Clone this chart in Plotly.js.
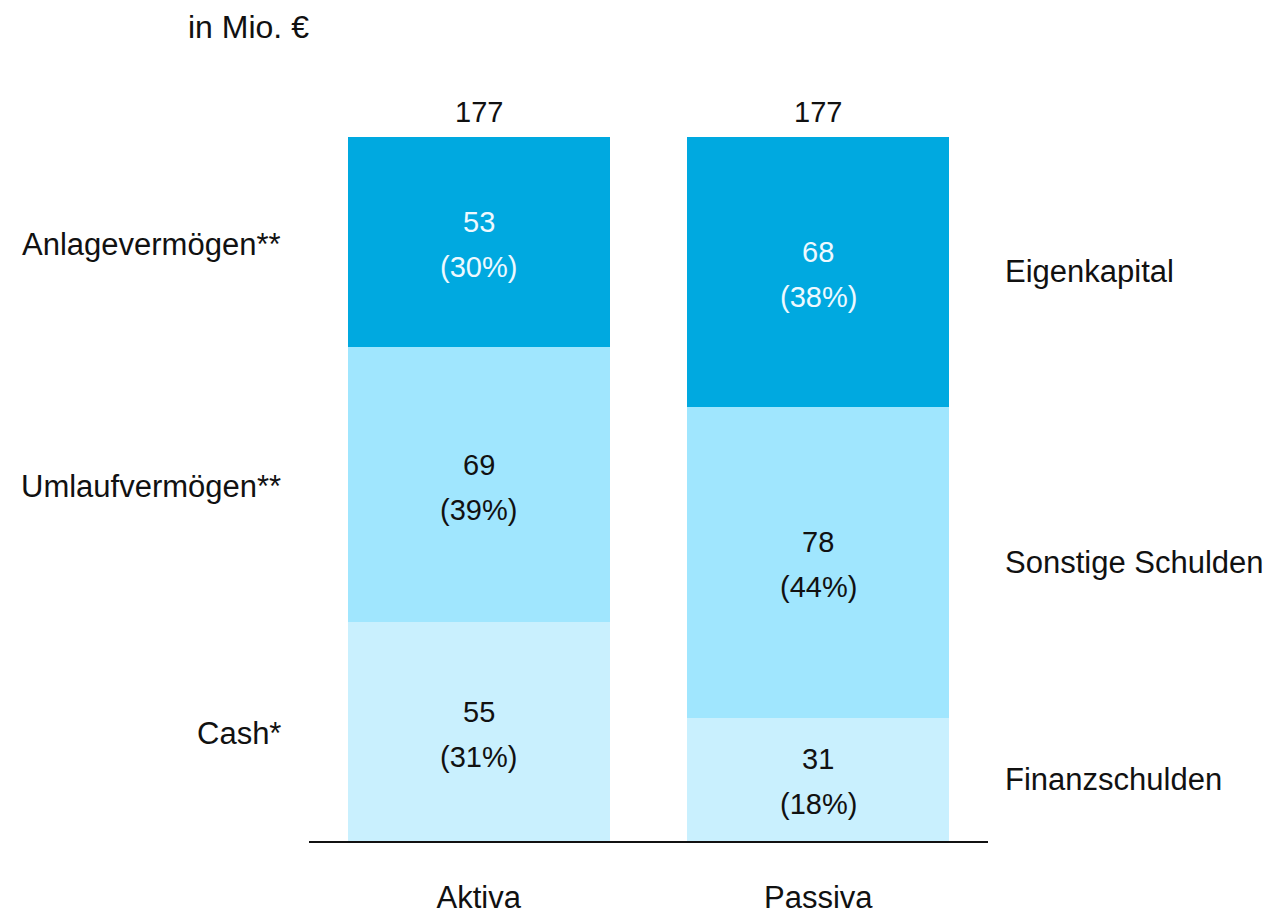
<!DOCTYPE html>
<html>
<head>
<meta charset="utf-8">
<script src="https://cdn.plot.ly/plotly-3.0.1.min.js"></script>
<style>html,body{margin:0;padding:0;background:#fff;}#chart{width:1268px;height:915px;}</style>
</head>
<body>
<div id="chart"></div>
<script>
const categories = ['Aktiva', 'Passiva'];
const aktivaLabels = ['Cash*', 'Umlaufvermögen**', 'Anlagevermögen**'];
const aktivaValues = [55, 69, 53];
const aktivaPct = ['31%', '39%', '30%'];
const passivaLabels = ['Finanzschulden', 'Sonstige Schulden', 'Eigenkapital'];
const passivaValues = [31, 78, 68];
const passivaPct = ['18%', '44%', '38%'];
const totals = [177, 177];
const unitLabel = 'in Mio. €';

const colors = ['#C9F0FE', '#A0E6FE', '#00A9E0'];
const textColors = ['#111111', '#111111', '#EEF9FF'];
const FONT = 'Liberation Sans, Arial, sans-serif';
const FS = 29;
const FS_LBL = 31;

const traces = [0, 1, 2].map(i => ({
  type: 'bar',
  x: categories,
  y: [aktivaValues[i], passivaValues[i]],
  marker: { color: colors[i], line: { width: 0 } },
  width: 0.772,
  hoverinfo: 'skip',
  showlegend: false
}));

const annotations = [];
const series = [
  { vals: aktivaValues, pct: aktivaPct, labels: aktivaLabels, side: 'left' },
  { vals: passivaValues, pct: passivaPct, labels: passivaLabels, side: 'right' }
];
series.forEach((s, ci) => {
  let cum = 0;
  s.vals.forEach((v, i) => {
    const mid = cum + v / 2;
    cum += v;
    annotations.push({ x: categories[ci], y: mid, xref: 'x', yref: 'y', text: String(v), showarrow: false,
      yshift: 20, font: { family: FONT, size: FS, color: textColors[i] } });
    annotations.push({ x: categories[ci], y: mid, xref: 'x', yref: 'y', text: '(' + s.pct[i] + ')', showarrow: false,
      yshift: -25, font: { family: FONT, size: FS, color: textColors[i] } });
    if (s.side === 'left') {
      annotations.push({ x: -0.5, y: mid, xref: 'x', yref: 'y', text: s.labels[i], showarrow: false,
        xanchor: 'right', xshift: -26, yshift: -2, font: { family: FONT, size: FS_LBL, color: '#111' } });
    } else {
      annotations.push({ x: 1.5, y: mid, xref: 'x', yref: 'y', text: s.labels[i], showarrow: false,
        xanchor: 'left', xshift: 15, font: { family: FONT, size: FS_LBL, color: '#111' } });
    }
  });
  annotations.push({ x: categories[ci], y: totals[ci], xref: 'x', yref: 'y', text: String(totals[ci]), showarrow: false,
    yanchor: 'bottom', yshift: 7, font: { family: FONT, size: FS, color: '#111' } });
});

const layout = {
  width: 1268, height: 915,
  margin: { l: 309, r: 280, t: 45, b: 74 },
  paper_bgcolor: '#fff', plot_bgcolor: '#fff',
  barmode: 'stack',
  title: { text: unitLabel, x: 188 / 1268, xanchor: 'left', xref: 'container', y: 1 - 27 / 915, yanchor: 'middle', yref: 'container',
    font: { family: FONT, size: 32, color: '#111' } },
  xaxis: { type: 'category', range: [-0.5, 1.5], showline: true, linecolor: '#111', linewidth: 1.5,
    showgrid: false, zeroline: false, ticks: 'outside', ticklen: 28, tickcolor: 'rgba(0,0,0,0)',
    tickfont: { family: FONT, size: FS_LBL, color: '#111' }, fixedrange: true },
  yaxis: { range: [0, 200], visible: false, showgrid: false, zeroline: false, fixedrange: true },
  annotations: annotations,
  font: { family: FONT }
};

Plotly.newPlot('chart', traces, layout, { displayModeBar: false, staticPlot: true });
</script>
</body>
</html>
